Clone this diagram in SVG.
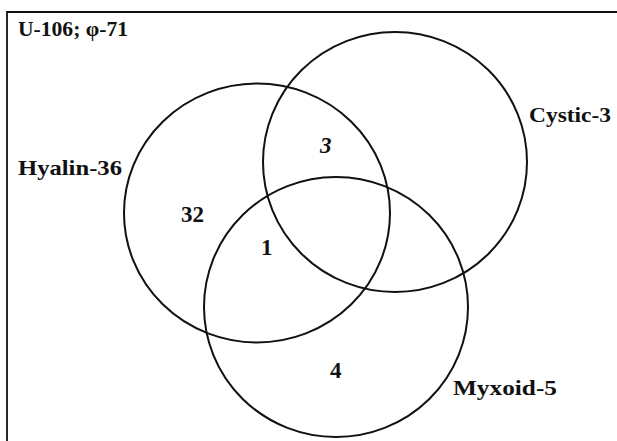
<svg xmlns="http://www.w3.org/2000/svg" width="617" height="441" viewBox="0 0 617 441">
<style>
.ring{fill:none;stroke:#111;stroke-width:2}
.frame{fill:none;stroke:#111;stroke-width:1.8}
.lbl{font-family:"Liberation Serif","Times New Roman",serif;font-weight:bold;font-size:22px;fill:#111}
.num{font-size:23px}
.it{font-style:italic}
</style>
<rect width="617" height="441" fill="#fff"/>
<path class="frame" d="M7,441 V12 H617"/>
<text class="lbl" x="18" y="36" textLength="110" lengthAdjust="spacingAndGlyphs">U-106; φ-71</text>
<g id="hyalin">
<ellipse class="ring" cx="257" cy="213" rx="133" ry="129.5"/>
<text class="lbl" x="18" y="175" textLength="104" lengthAdjust="spacingAndGlyphs">Hyalin-36</text>
</g>
<g id="cystic">
<ellipse class="ring" cx="395" cy="162" rx="132" ry="130"/>
<text class="lbl" x="529" y="122" textLength="82" lengthAdjust="spacingAndGlyphs">Cystic-3</text>
</g>
<g id="myxoid">
<ellipse class="ring" cx="336" cy="307" rx="132" ry="130"/>
<text class="lbl" x="453" y="395" textLength="104" lengthAdjust="spacingAndGlyphs">Myxoid-5</text>
</g>
<g id="counts">
<text class="lbl num" x="181" y="222">32</text>
<text class="lbl num it" x="320" y="153">3</text>
<text class="lbl num" x="261" y="255">1</text>
<text class="lbl num" x="330" y="378">4</text>
</g>
<g id="connectors"></g>
</svg>
